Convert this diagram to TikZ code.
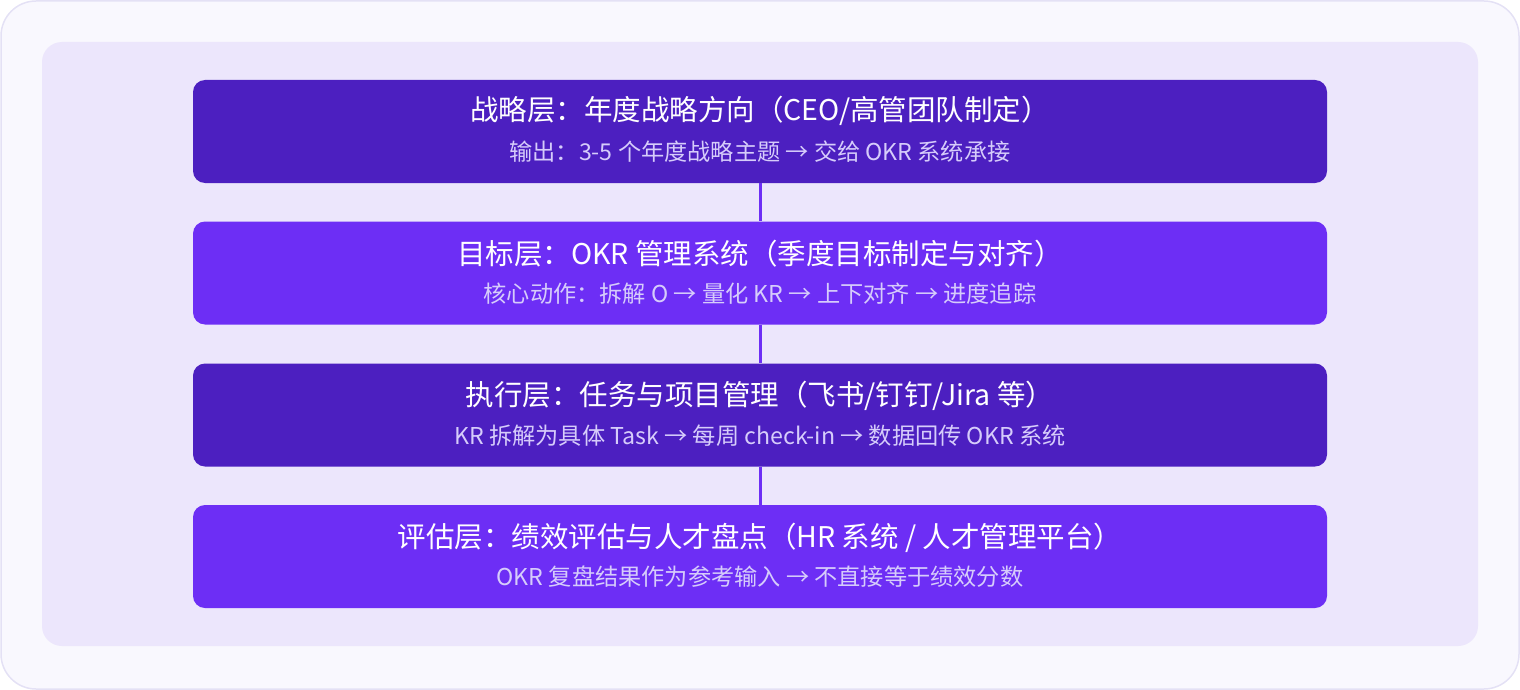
\documentclass[tikz,border=0pt]{standalone}
\usepackage{fontspec}
\setmainfont{Noto Sans CJK SC}
\definecolor{outerfill}{HTML}{F9F8FE}
\definecolor{outerline}{HTML}{E4E1F5}
\definecolor{panel}{HTML}{ECE6FC}
\definecolor{darkbox}{HTML}{4C1FC0}
\definecolor{lightbox}{HTML}{6D2EF5}
\definecolor{subtext}{HTML}{D6CCFB}
\tikzset{
  layer/.style={rounded corners=12pt, minimum width=1134pt, minimum height=103pt, inner sep=0pt},
  title/.style={text=white, font=\fontsize{28.5}{34}\selectfont, inner sep=0pt},
  sub/.style={text=subtext, font=\fontsize{23.2}{28}\selectfont, inner sep=0pt},
  conn/.style={draw=lightbox, line width=3pt}
}
\begin{document}
\begin{tikzpicture}[x=1pt,y=-1pt]
\useasboundingbox (0,0) rectangle (1520,690);
\draw[fill=outerfill, draw=outerline, line width=1.5pt, rounded corners=35pt] (1,1) rectangle (1519,689);
\fill[panel, rounded corners=20pt] (42,42) rectangle (1478,646);
\node[layer, fill=darkbox] (b1) at (760,131.5) {};
\node[layer, fill=lightbox] (b2) at (760,273) {};
\node[layer, fill=darkbox] (b3) at (760,415) {};
\node[layer, fill=lightbox] (b4) at (760,556.5) {};
\draw[conn] (b1.south) -- (b2.north);
\draw[conn] (b2.south) -- (b3.north);
\draw[conn] (b3.south) -- (b4.north);
\node[title] (t1) at (760,111) {战略层：年度战略方向（CEO/高管团队制定）};
\node[sub] (s1) at (760,152) {输出：3-5 个年度战略主题 → 交给 OKR 系统承接};
\node[title] (t2) at (760,254) {目标层：OKR 管理系统（季度目标制定与对齐）};
\node[sub] (s2) at (760,294) {核心动作：拆解 O → 量化 KR → 上下对齐 → 进度追踪};
\node[title] (t3) at (760,396) {执行层：任务与项目管理（飞书/钉钉/Jira 等）};
\node[sub] (s3) at (760,436) {KR 拆解为具体 Task → 每周 check-in → 数据回传 OKR 系统};
\node[title] (t4) at (760,538) {评估层：绩效评估与人才盘点（HR 系统 / 人才管理平台）};
\node[sub] (s4) at (760,577) {OKR 复盘结果作为参考输入 → 不直接等于绩效分数};
\end{tikzpicture}
\end{document}
